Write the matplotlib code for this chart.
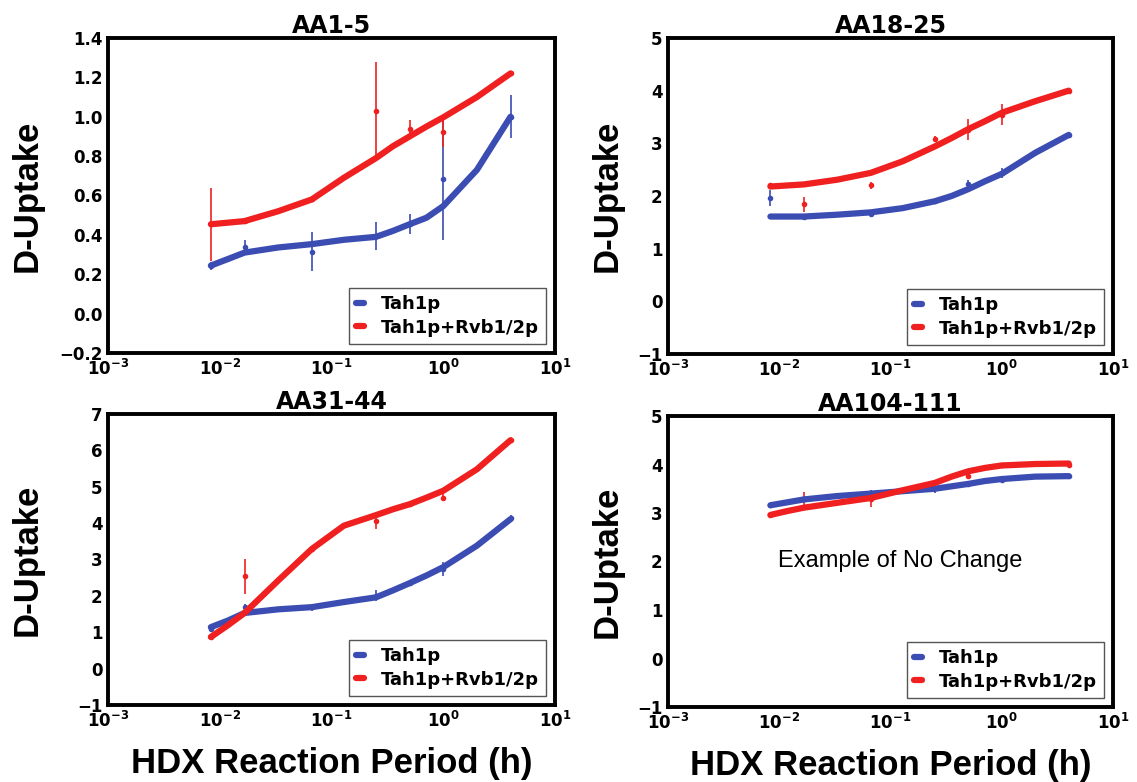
import matplotlib.pyplot as plt

plt.rcParams['font.family'] = ['DejaVu Sans']

# time points (h): 30 s, 1 min, 4 min, 15 min, 30 min, 1 h, 4 h
times = [0.00833, 0.01667, 0.0667, 0.25, 0.5, 1.0, 4.0]
fit_times = [0.00833, 0.0118, 0.01667, 0.0333, 0.0667, 0.129, 0.25,
             0.354, 0.5, 0.707, 1.0, 2.0, 4.0]

titles = ["AA1-5", "AA18-25", "AA31-44", "AA104-111"]
series_names = ["Tah1p", "Tah1p+Rvb1/2p"]

# fitted curves
fit_apo = [
    [0.244, 0.277, 0.31, 0.336, 0.353, 0.375, 0.39, 0.42, 0.454, 0.487, 0.546, 0.73, 1.0],
    [1.61, 1.61, 1.61, 1.645, 1.69, 1.77, 1.90, 2.0, 2.13, 2.28, 2.42, 2.82, 3.16],
    [1.14, 1.32, 1.53, 1.63, 1.69, 1.83, 1.96, 2.15, 2.35, 2.56, 2.79, 3.38, 4.11],
    [3.16, 3.22, 3.28, 3.35, 3.40, 3.45, 3.50, 3.55, 3.60, 3.66, 3.70, 3.75, 3.76],
]
fit_cplx = [
    [0.454, 0.462, 0.47, 0.52, 0.58, 0.69, 0.79, 0.85, 0.90, 0.95, 0.997, 1.10, 1.22],
    [2.18, 2.20, 2.22, 2.31, 2.44, 2.66, 2.94, 3.10, 3.27, 3.42, 3.58, 3.80, 4.0],
    [0.87, 1.19, 1.53, 2.42, 3.29, 3.93, 4.22, 4.38, 4.52, 4.70, 4.89, 5.48, 6.28],
    [2.96, 3.04, 3.11, 3.21, 3.31, 3.47, 3.62, 3.75, 3.86, 3.93, 3.98, 4.01, 4.02],
]

# measured means and errors
dat_apo = [
    [0.244, 0.336, 0.314, 0.395, 0.454, 0.686, 1.0],
    [1.96, 1.60, 1.66, 1.90, 2.23, 2.44, 3.16],
    [1.10, 1.69, 1.69, 2.00, 2.35, 2.74, 4.13],
    [3.16, 3.28, 3.42, 3.52, 3.60, 3.69, 3.76],
]
err_apo = [
    [0.02, 0.04, 0.10, 0.07, 0.05, 0.31, 0.11],
    [0.15, 0.03, 0.03, 0.03, 0.08, 0.10, 0.03],
    [0.08, 0.10, 0.10, 0.15, 0.08, 0.20, 0.08],
    [0.02, 0.02, 0.05, 0.10, 0.02, 0.03, 0.03],
]
dat_cplx = [
    [0.454, 0.47, 0.58, 1.03, 0.936, 0.924, 1.22],
    [2.20, 1.84, 2.20, 3.08, 3.26, 3.54, 4.00],
    [0.87, 2.54, 3.30, 4.05, 4.52, 4.70, 6.28],
    [2.96, 3.28, 3.28, 3.52, 3.77, 3.98, 4.00],
]
err_cplx = [
    [0.185, 0.01, 0.01, 0.25, 0.05, 0.08, 0.01],
    [0.05, 0.15, 0.07, 0.05, 0.20, 0.20, 0.02],
    [0.05, 0.48, 0.05, 0.20, 0.02, 0.10, 0.03],
    [0.02, 0.15, 0.15, 0.05, 0.07, 0.02, 0.03],
]

yticks = [
    [-0.2, 0.0, 0.2, 0.4, 0.6, 0.8, 1.0, 1.2, 1.4],
    [-1, 0, 1, 2, 3, 4, 5],
    [-1, 0, 1, 2, 3, 4, 5, 6, 7],
    [-1, 0, 1, 2, 3, 4, 5],
]
xticks = [1e-3, 1e-2, 1e-1, 1e0, 1e1]
xticklabels = [r"$\mathbf{10^{-3}}$", r"$\mathbf{10^{-2}}$", r"$\mathbf{10^{-1}}$",
               r"$\mathbf{10^{0}}$", r"$\mathbf{10^{1}}$"]

BLUE = "#3b4db3"
RED = "#f02020"

W, H = 1137, 782
fig = plt.figure(figsize=(W / 100, H / 100), dpi=100)

# axes boxes in pixels: left, top, right, bottom
boxes = [(108, 38, 555, 353), (668, 38, 1113, 354),
         (108, 414, 555, 705), (668, 416, 1113, 707)]
# right edge (pixels) of the rotated y labels
ylabel_x = [44, 624, 44, 624]

for i, (l, t, r, b) in enumerate(boxes):
    ax = fig.add_axes([l / W, 1 - b / H, (r - l) / W, (b - t) / H])
    ax.set_xscale("log")
    ax.plot(fit_times, fit_apo[i], color=BLUE, lw=4.5, solid_capstyle="round",
            solid_joinstyle="round", label=series_names[0], zorder=3)
    ax.plot(fit_times, fit_cplx[i], color=RED, lw=4.5, solid_capstyle="round",
            solid_joinstyle="round", label=series_names[1], zorder=3)
    ax.errorbar(times, dat_apo[i], yerr=err_apo[i], fmt="o", ms=3, color=BLUE,
                elinewidth=1.2, capsize=0, zorder=2)
    ax.errorbar(times, dat_cplx[i], yerr=err_cplx[i], fmt="o", ms=3, color=RED,
                elinewidth=1.2, capsize=0, zorder=2)

    ax.set_xlim(1e-3, 1e1)
    ax.set_ylim(yticks[i][0], yticks[i][-1])
    ax.set_xticks(xticks)
    ax.set_xticklabels(xticklabels)
    ax.minorticks_off()
    ax.set_yticks(yticks[i])
    if i == 0:
        ax.set_yticklabels([f"{v:.1f}".replace("-", "\u2212") for v in yticks[i]])
    else:
        ax.set_yticklabels([str(v).replace("-", "\u2212") for v in yticks[i]])
    ax.tick_params(length=0, labelsize=12, pad=4)
    for lab in ax.get_yticklabels():
        lab.set_fontweight("bold")
    for sp in ax.spines.values():
        sp.set_linewidth(2.8)

    ax.set_title(titles[i], fontsize=17, fontweight="bold", pad=2)
    ax.set_ylabel("D-Uptake", fontsize=25, fontweight="bold",
                  family="Liberation Sans")
    ax.yaxis.set_label_coords((ylabel_x[i] - l) / (r - l), 0.5)

    leg = ax.legend(loc="lower right", handlelength=0.45, handletextpad=0.9,
                    borderaxespad=0.5, fancybox=False, framealpha=1,
                    labelspacing=0.3, prop={"weight": "bold", "size": 13})
    leg.get_frame().set_edgecolor("#555555")
    leg.get_frame().set_linewidth(1.0)

    if i >= 2:
        ax.set_xlabel("HDX Reaction Period (h)", fontsize=25, fontweight="bold",
                      family="Liberation Sans", labelpad=12)
    if i == 3:
        ax.text(0.123, 2.0, "Example of No Change", fontsize=17,
                family="Liberation Sans", ha="center", va="center")

fig.savefig("out.png", dpi=100)
